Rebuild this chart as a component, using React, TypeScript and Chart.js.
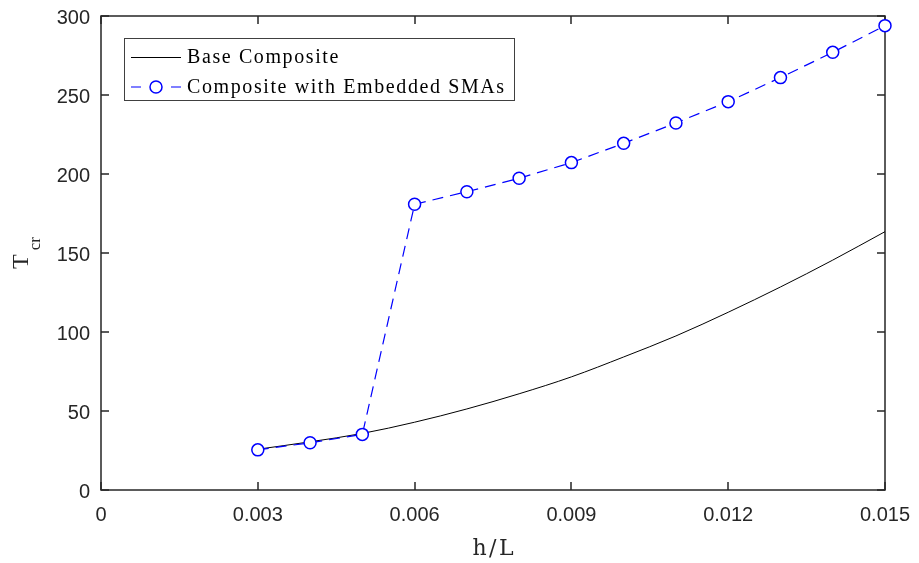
import React, { useEffect, useRef } from 'react';
import { Chart, registerables } from 'chart.js';

Chart.register(...registerables);

// ---- data ----
const hOverL = [0.003, 0.004, 0.005, 0.006, 0.007, 0.008, 0.009, 0.010, 0.011, 0.012, 0.013, 0.014, 0.015];
const baseComposite = [25.8, 30.5, 35.8, 42.9, 51.3, 60.9, 71.6, 84.2, 97.5, 112.5, 128.5, 145.5, 163.5];
const embeddedSMAs = [25.4, 29.9, 35.2, 180.8, 188.8, 197.3, 207.2, 219.4, 232.3, 245.8, 261.0, 277.0, 293.9];
const xTickValues = [0, 0.003, 0.006, 0.009, 0.012, 0.015];
const xTickLabels = ['0', '0.003', '0.006', '0.009', '0.012', '0.015'];
const yTickValues = [0, 50, 100, 150, 200, 250, 300];
const yTickLabels = ['0', '50', '100', '150', '200', '250', '300'];
const seriesNames = ['Base Composite', 'Composite with Embedded SMAs'];
const xAxisTitle = 'h/L';
const yAxisTitle = 'T';
const yAxisSubscript = 'cr';

const AXIS_COLOR = '#262626';
const BLUE = '#0000ff';

const framePlugin = {
  id: 'matlabFrame',
  beforeDatasetsDraw(chart: any) {
    const { ctx, chartArea: a, scales } = chart;
    const xs = scales.x;
    const ys = scales.y;
    ctx.save();
    ctx.strokeStyle = AXIS_COLOR;
    ctx.lineWidth = 1.5;
    ctx.strokeRect(a.left, a.top, a.right - a.left, a.bottom - a.top);
    const tl = 8;
    ctx.beginPath();
    xTickValues.forEach((v) => {
      const px = Math.round(xs.getPixelForValue(v));
      ctx.moveTo(px, a.bottom);
      ctx.lineTo(px, a.bottom - tl);
      ctx.moveTo(px, a.top);
      ctx.lineTo(px, a.top + tl);
    });
    yTickValues.forEach((v) => {
      const py = Math.round(ys.getPixelForValue(v));
      ctx.moveTo(a.left, py);
      ctx.lineTo(a.left + tl, py);
      ctx.moveTo(a.right, py);
      ctx.lineTo(a.right - tl, py);
    });
    ctx.stroke();

    // x axis title
    ctx.fillStyle = AXIS_COLOR;
    ctx.font = '22px "DejaVu Serif"';
    ctx.textBaseline = 'alphabetic';
    ctx.textAlign = 'left';
    (ctx as any).letterSpacing = '2.5px';
    const w = ctx.measureText(xAxisTitle).width - 2.5;
    const cx = (a.left + a.right) / 2;
    ctx.fillText(xAxisTitle, cx - w / 2, 555);
    (ctx as any).letterSpacing = '0px';

    // y axis title (rotated, with subscript)
    const cy = (a.top + a.bottom) / 2;
    ctx.save();
    ctx.translate(28, cy + 16);
    ctx.rotate(-Math.PI / 2);
    ctx.font = '24px "Liberation Serif"';
    ctx.fillText(yAxisTitle, 0, 0);
    const tw = ctx.measureText(yAxisTitle).width;
    ctx.font = '17px "Liberation Serif"';
    ctx.fillText(yAxisSubscript, tw + 4, 12);
    ctx.restore();
    ctx.restore();
  },
  afterDraw(chart: any) {
    const { ctx } = chart;
    ctx.save();
    // legend box
    ctx.fillStyle = '#ffffff';
    ctx.fillRect(124.5, 38.5, 390, 62);
    ctx.strokeStyle = '#404040';
    ctx.lineWidth = 1;
    ctx.strokeRect(124.5, 38.5, 390, 62);

    // base composite sample
    ctx.strokeStyle = '#000000';
    ctx.lineWidth = 1;
    ctx.beginPath();
    ctx.moveTo(131, 57.5);
    ctx.lineTo(181, 57.5);
    ctx.stroke();

    // embedded SMA sample
    ctx.strokeStyle = BLUE;
    ctx.lineWidth = 1.2;
    ctx.beginPath();
    ctx.moveTo(131, 87);
    ctx.lineTo(141, 87);
    ctx.moveTo(171, 87);
    ctx.lineTo(181, 87);
    ctx.stroke();
    ctx.beginPath();
    ctx.arc(156, 87, 6, 0, Math.PI * 2);
    ctx.fillStyle = '#ffffff';
    ctx.fill();
    ctx.lineWidth = 1.5;
    ctx.stroke();

    // legend text
    ctx.fillStyle = '#000000';
    ctx.font = '20px "Liberation Serif"';
    ctx.textAlign = 'left';
    ctx.textBaseline = 'alphabetic';
    (ctx as any).letterSpacing = '1.6px';
    ctx.fillText(seriesNames[0], 187, 63);
    ctx.fillText(seriesNames[1], 187, 93);
    (ctx as any).letterSpacing = '0px';
    ctx.restore();
  },
};

export default function App() {
  const ref = useRef<HTMLCanvasElement>(null);

  useEffect(() => {
    const canvas = ref.current;
    if (!canvas) return;
    const chart = new Chart(canvas, {
      type: 'line',
      data: {
        datasets: [
          {
            label: seriesNames[1],
            data: hOverL.map((x, i) => ({ x, y: embeddedSMAs[i] })),
            borderColor: BLUE,
            borderWidth: 1.2,
            borderDash: [11, 7],
            pointRadius: 6,
            pointBorderWidth: 1.5,
            pointBackgroundColor: '#ffffff',
            pointBorderColor: BLUE,
            tension: 0,
            clip: false as any,
            order: 1,
          },
          {
            label: seriesNames[0],
            data: hOverL.map((x, i) => ({ x, y: baseComposite[i] })),
            borderColor: '#000000',
            borderWidth: 1,
            pointRadius: 0,
            cubicInterpolationMode: 'monotone',
            order: 2,
          },
        ],
      },
      options: {
        animation: false,
        responsive: true,
        maintainAspectRatio: false,
        layout: { padding: { top: 16, right: 34, left: 0, bottom: 0 } },
        plugins: {
          legend: { display: false },
          tooltip: { enabled: false },
        },
        scales: {
          x: {
            type: 'linear',
            min: 0,
            max: 0.015,
            grid: { display: false, drawTicks: false },
            border: { display: false },
            afterBuildTicks: (s: any) => {
              s.ticks = xTickValues.map((v) => ({ value: v }));
            },
            afterFit: (s: any) => {
              s.height = 73;
              s.paddingLeft = 0;
              s.paddingRight = 0;
              s.paddingTop = 0;
              s.paddingBottom = 0;
            },
            ticks: {
              autoSkip: false,
              maxRotation: 0,
              padding: 13,
              color: AXIS_COLOR,
              font: { family: '"Liberation Sans", Arial, sans-serif', size: 20 },
              callback: (_v: any, i: number) => xTickLabels[i],
            },
          },
          y: {
            type: 'linear',
            min: 0,
            max: 300,
            grid: { display: false, drawTicks: false },
            border: { display: false },
            afterBuildTicks: (s: any) => {
              s.ticks = yTickValues.map((v) => ({ value: v }));
            },
            afterFit: (s: any) => {
              s.width = 101;
              s.paddingLeft = 0;
              s.paddingRight = 0;
              s.paddingTop = 0;
              s.paddingBottom = 0;
            },
            ticks: {
              autoSkip: false,
              padding: 11,
              labelOffset: 2,
              color: AXIS_COLOR,
              font: { family: '"Liberation Sans", Arial, sans-serif', size: 20 },
              callback: (_v: any, i: number) => yTickLabels[i],
            },
          },
        },
      },
      plugins: [framePlugin],
    } as any);
    return () => chart.destroy();
  }, []);

  return (
    <div style={{ position: 'fixed', left: 0, top: 0, width: 919, height: 563, background: '#ffffff' }}>
      <canvas ref={ref} />
    </div>
  );
}
